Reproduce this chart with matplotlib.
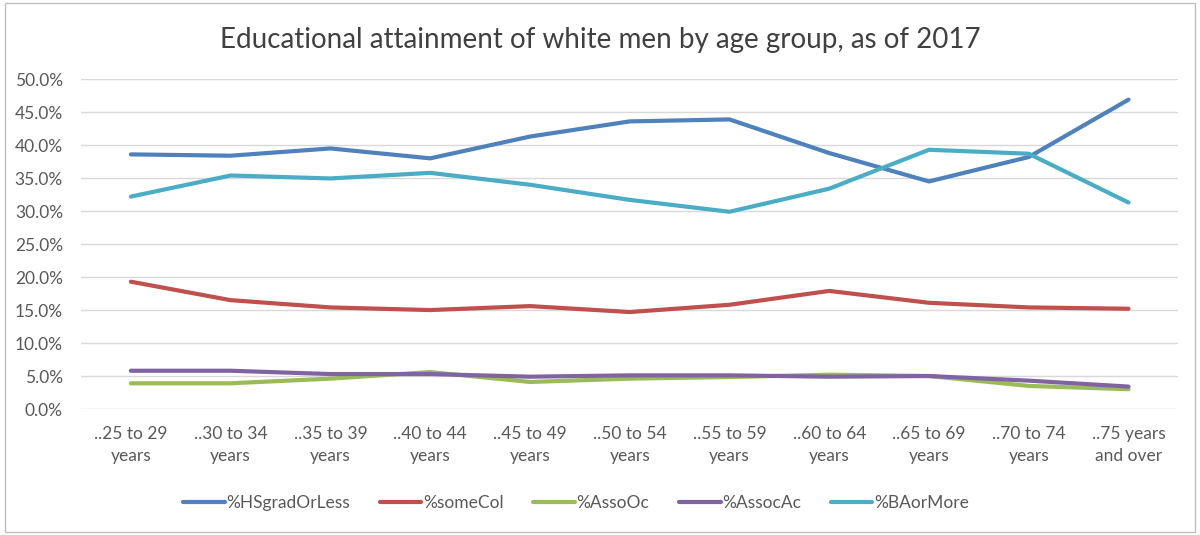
import matplotlib
matplotlib.use('Agg')
import matplotlib.pyplot as plt
from matplotlib.patches import Rectangle
from matplotlib.ticker import FuncFormatter

plt.rcParams['font.family'] = ['Lato', 'DejaVu Sans']

age_groups = ['..25 to 29\nyears', '..30 to 34\nyears', '..35 to 39\nyears', '..40 to 44\nyears',
              '..45 to 49\nyears', '..50 to 54\nyears', '..55 to 59\nyears', '..60 to 64\nyears',
              '..65 to 69\nyears', '..70 to 74\nyears', '..75 years\nand over']

hs_grad_or_less = [38.6, 38.4, 39.5, 38.0, 41.3, 43.6, 43.9, 38.8, 34.5, 38.2, 46.9]
some_col = [19.3, 16.5, 15.4, 15.0, 15.6, 14.7, 15.8, 17.9, 16.1, 15.4, 15.2]
asso_oc = [3.9, 3.9, 4.6, 5.6, 4.1, 4.6, 4.85, 5.2, 5.0, 3.5, 3.0]
assoc_ac = [5.8, 5.8, 5.3, 5.3, 4.9, 5.1, 5.1, 4.9, 5.0, 4.3, 3.4]
ba_or_more = [32.2, 35.4, 34.95, 35.8, 34.0, 31.7, 29.9, 33.4, 39.3, 38.7, 31.3]

series = [
    ('%HSgradOrLess', hs_grad_or_less, '#4F81BD'),
    ('%someCol', some_col, '#C0504D'),
    ('%AssoOc', asso_oc, '#9BBB59'),
    ('%AssocAc', assoc_ac, '#8064A2'),
    ('%BAorMore', ba_or_more, '#4BACC6'),
]

fig = plt.figure(figsize=(12, 5.35), dpi=100)
ax = fig.add_axes([0.0675, 0.2355, 0.9145, 0.6165])

x = range(len(age_groups))
for name, vals, color in series:
    ax.plot(x, vals, color=color, lw=3, label=name, solid_capstyle='round')

ax.set_xlim(-0.5, 10.5)
ax.set_ylim(0, 50)
ax.set_yticks(range(0, 51, 5))
ax.yaxis.set_major_formatter(FuncFormatter(lambda v, p: f'{v:.1f}%'))
ax.set_xticks(list(x))
ax.set_xticklabels(age_groups, linespacing=1.45)
ax.grid(axis='y', color='#d9d9d9', lw=1)
ax.set_axisbelow(True)
for s in ax.spines.values():
    s.set_visible(False)
ax.tick_params(axis='both', length=0, labelsize=12.5, colors='#595959')
ax.tick_params(axis='x', pad=12)
ax.tick_params(axis='y', pad=13)

fig.suptitle('Educational attainment of white men by age group, as of 2017',
             y=0.95, fontsize=20, color='#404040')

fig.legend(loc='lower center', bbox_to_anchor=(0.48, 0.015), ncol=5, frameon=False,
           fontsize=12.5, labelcolor='#595959', handlelength=2.4, columnspacing=1.7,
           handletextpad=0.1)

fig.add_artist(Rectangle((0.004, 0.006), 0.992, 0.988, transform=fig.transFigure,
                         fill=False, edgecolor='#bfbfbf', lw=1))

fig.savefig('out.png', dpi=100)
